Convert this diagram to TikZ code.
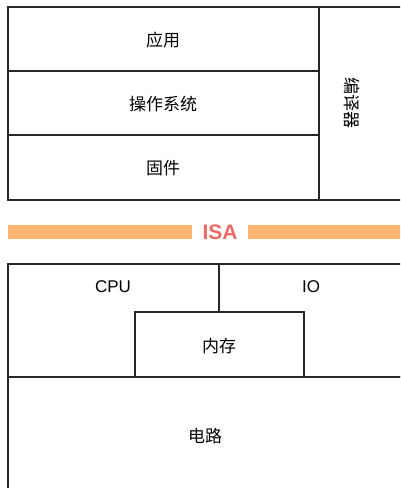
\documentclass[tikz,border=0pt]{standalone}
\usepackage{fontspec}
\setmainfont{Liberation Sans}
\newfontfamily\cjk{Noto Sans CJK SC}
\definecolor{isared}{HTML}{EA6B66}
\definecolor{isaorange}{HTML}{FFB570}
\begin{document}
\begin{tikzpicture}[x=0.75pt,y=-0.75pt,
  frame/.style={draw=black!85,line width=0.9pt},
  lbl/.style={inner sep=0pt,font=\fontsize{12.75pt}{14pt}\selectfont},
  bar/.style={fill=isaorange,draw=none}]
\useasboundingbox (0,0) rectangle (400,488);
\clip (0,0) rectangle (400,488);
\fill[white] (0,0) rectangle (400,488);
% software stack
\draw[frame] (8,7) rectangle (319,71);
\draw[frame] (8,71) rectangle (319,135);
\draw[frame] (8,135) rectangle (319,200);
\draw[frame] (319,7) rectangle (410,200);
\node[lbl] (app) at (163,40) {\cjk 应用};
\node[lbl] (os) at (163,104) {\cjk 操作系统};
\node[lbl] (fw) at (163,168) {\cjk 固件};
\node[lbl,rotate=-90] (comp) at (352,103) {\cjk 编译器};
% ISA
\fill[bar] (8,225) rectangle (192,239);
\fill[bar] (248,225) rectangle (410,239);
\node[inner sep=0pt,text=isared,font=\bfseries\fontsize{15.75pt}{18pt}\selectfont] (isa) at (220,232) {ISA};
% hardware
\draw[frame] (8,264) rectangle (410,377);
\draw[frame] (219,264) -- (219,312);
\draw[frame] (135,312) rectangle (304,377);
\draw[frame] (8,377) rectangle (410,500);
\node[lbl] (cpu) at (113,287) {CPU};
\node[lbl] (io) at (311,287) {IO};
\node[lbl] (mem) at (219,346) {\cjk 内存};
\node[lbl] (circ) at (205,436) {\cjk 电路};
\end{tikzpicture}
\end{document}
